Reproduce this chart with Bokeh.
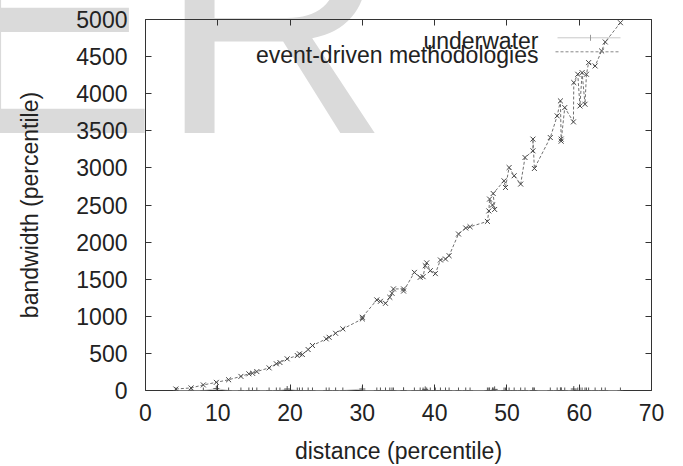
from bokeh.plotting import figure
from bokeh.models import Range1d, FixedTicker, LinearAxis, Label, Arrow, Column, Div
from bokeh.embed import file_html
from bokeh.resources import INLINE

# ---- data ----
distance = [4.2, 6.3, 8.0, 9.8, 11.5, 13.2, 14.3, 14.8, 15.4, 17.1, 18.1, 18.6, 19.6,
            21.0, 21.3, 21.7, 22.5, 23.1, 25.0, 25.4, 26.3, 27.3, 30.0, 30.0, 32.0,
            32.5, 33.2, 33.8, 34.1, 34.3, 35.7, 35.7, 37.2, 38.0, 38.4, 38.7, 38.9,
            39.4, 40.1, 40.8, 41.5, 42.0, 43.3, 44.3, 44.9, 47.3, 47.5, 47.6, 48.0,
            48.3, 48.1, 49.6, 49.8, 50.3, 51.0, 51.9, 52.5, 53.6, 53.6, 53.8, 56.0,
            56.95, 57.4, 57.5, 57.5, 58.0, 59.2, 59.25, 59.8, 60.1, 60.4, 60.8, 61.0,
            61.3, 62.2, 63.1, 63.6, 65.7]
event_driven = [20, 35, 75, 110, 145, 190, 225, 233, 255, 305, 360, 377, 427,
                471, 494, 485, 552, 606, 696, 717, 771, 830, 965, 987, 1221,
                1202, 1175, 1256, 1310, 1369, 1369, 1340, 1592, 1525, 1534, 1682, 1720,
                1615, 1575, 1759, 1772, 1817, 2109, 2190, 2207, 2279, 2420, 2580, 2500,
                2440, 2655, 2826, 2736, 3005, 2894, 2782, 3140, 3230, 3388, 2992, 3409,
                3701, 3903, 3388, 3360, 3813, 3620, 4150, 4262, 3835, 4284, 3858, 4262,
                4419, 4374, 4576, 4697, 4957]
underwater = [0, 0, 0, 25, 0, 0, 0, 0, 0, 0, 0, 0, 20,
              0, 0, 0, 0, 0, 0, 0, 0, 0, 20, 0, 0,
              0, 0, 0, 0, 0, 0, 0, 0, 0, 0, 15, 0,
              0, 0, 0, 0, 0, 0, 0, 0, 0, 0, 0, 0,
              15, 0, 0, 0, 0, 0, 0, 0, 0, 0, 0, 0,
              0, 0, 0, 0, 0, 0, 20, 0, 0, 0, 0, 0,
              0, 0, 0, 0, 0]
x_ticks = [0, 10, 20, 30, 40, 50, 60, 70]
y_ticks = [0, 500, 1000, 1500, 2000, 2500, 3000, 3500, 4000, 4500, 5000]
series_names = ["underwater", "event-driven methodologies"]
x_label = "distance (percentile)"
y_label = "bandwidth (percentile)"
watermark = "ER"

FONT = "Liberation Sans"
FS = "23px"
TXT = "#222222"
FRAME = "#333333"
W, H = 683, 466

# ---- background: the big light watermark, as inline SVG text in a Div ----
wm = Div(width=W, height=H,
         text=(f'<svg xmlns="http://www.w3.org/2000/svg" width="{W}" height="{H}" '
               f'style="display:block;background:white">'
               f'<text x="-55" y="133" font-family="{FONT}" font-size="320" '
               f'fill="#dadada">{watermark}</text></svg>'),
         styles={"margin": "0px", "padding": "0px"})

# ---- the chart itself, transparent, laid over the watermark ----
p = figure(width=W, height=H, output_backend="svg", toolbar_location=None,
           x_range=Range1d(0, 70), y_range=Range1d(0, 5000),
           min_border_left=145, min_border_right=W - 651, min_border_top=19,
           min_border_bottom=H - 390)
p.background_fill_color = None
p.border_fill_color = None
p.outline_line_color = FRAME
p.outline_line_width = 1
p.xgrid.visible = False
p.ygrid.visible = False
p.stylesheets = [":host { position: absolute !important; left: 0px !important; top: 0px !important; }"]


def style_axis(ax, ticks, show_labels=True):
    ax.ticker = FixedTicker(ticks=ticks, minor_ticks=[])
    ax.axis_line_color = None
    ax.major_tick_in = 6
    ax.major_tick_out = 0
    ax.minor_tick_in = 0
    ax.minor_tick_out = 0
    ax.major_tick_line_color = FRAME
    ax.major_tick_line_width = 1
    if show_labels:
        ax.major_label_text_font = FONT
        ax.major_label_text_font_size = FS
        ax.major_label_text_color = TXT
        ax.axis_label_text_font = FONT
        ax.axis_label_text_font_size = FS
        ax.axis_label_text_color = TXT
        ax.axis_label_text_font_style = "normal"
    else:
        ax.major_label_text_font_size = "0px"
        ax.major_label_standoff = 0


style_axis(p.xaxis[0], x_ticks)
style_axis(p.yaxis[0], y_ticks)
p.xaxis[0].axis_label = x_label
p.yaxis[0].axis_label = y_label
p.xaxis[0].major_label_standoff = 13
p.xaxis[0].axis_label_standoff = 14
p.yaxis[0].major_label_standoff = 18
p.yaxis[0].axis_label_standoff = 30

top_ax = LinearAxis()
style_axis(top_ax, x_ticks, show_labels=False)
p.add_layout(top_ax, "above")
right_ax = LinearAxis()
style_axis(right_ax, y_ticks, show_labels=False)
p.add_layout(right_ax, "right")

# series
p.line(distance, underwater, line_color="#c8c8c8", line_width=1)
p.scatter(distance, underwater, marker="cross", size=6, line_color="#555555", line_width=1)
p.line(distance, event_driven, line_color="#707070", line_width=1, line_dash="3 2")
p.scatter(distance, event_driven, marker="x", size=7, line_color="#444444", line_width=1)

# legend (gnuplot style: text right-aligned, sample to the right)
p.add_layout(Label(x=393, y=350, x_units="screen", y_units="screen", text=series_names[0],
                   text_font=FONT, text_font_size=FS, text_color=TXT,
                   text_align="right", text_baseline="alphabetic"))
p.add_layout(Label(x=393, y=336, x_units="screen", y_units="screen", text=series_names[1],
                   text_font=FONT, text_font_size=FS, text_color=TXT,
                   text_align="right", text_baseline="alphabetic"))
p.add_layout(Arrow(end=None, x_start=412, y_start=352.7, x_end=475, y_end=352.7,
                   start_units="screen", end_units="screen",
                   line_color="#c8c8c8", line_width=1))
p.add_layout(Arrow(end=None, x_start=445, y_start=349.7, x_end=445, y_end=355.7,
                   start_units="screen", end_units="screen",
                   line_color="#999999", line_width=1))
p.add_layout(Arrow(end=None, x_start=410, y_start=338.7, x_end=475, y_end=338.7,
                   start_units="screen", end_units="screen",
                   line_color="#888888", line_width=1, line_dash="3 2"))

layout = Column(children=[wm, p], spacing=0,
                stylesheets=[":host { position: relative !important; }"])

open("out.html", "w").write(file_html(layout, INLINE))
